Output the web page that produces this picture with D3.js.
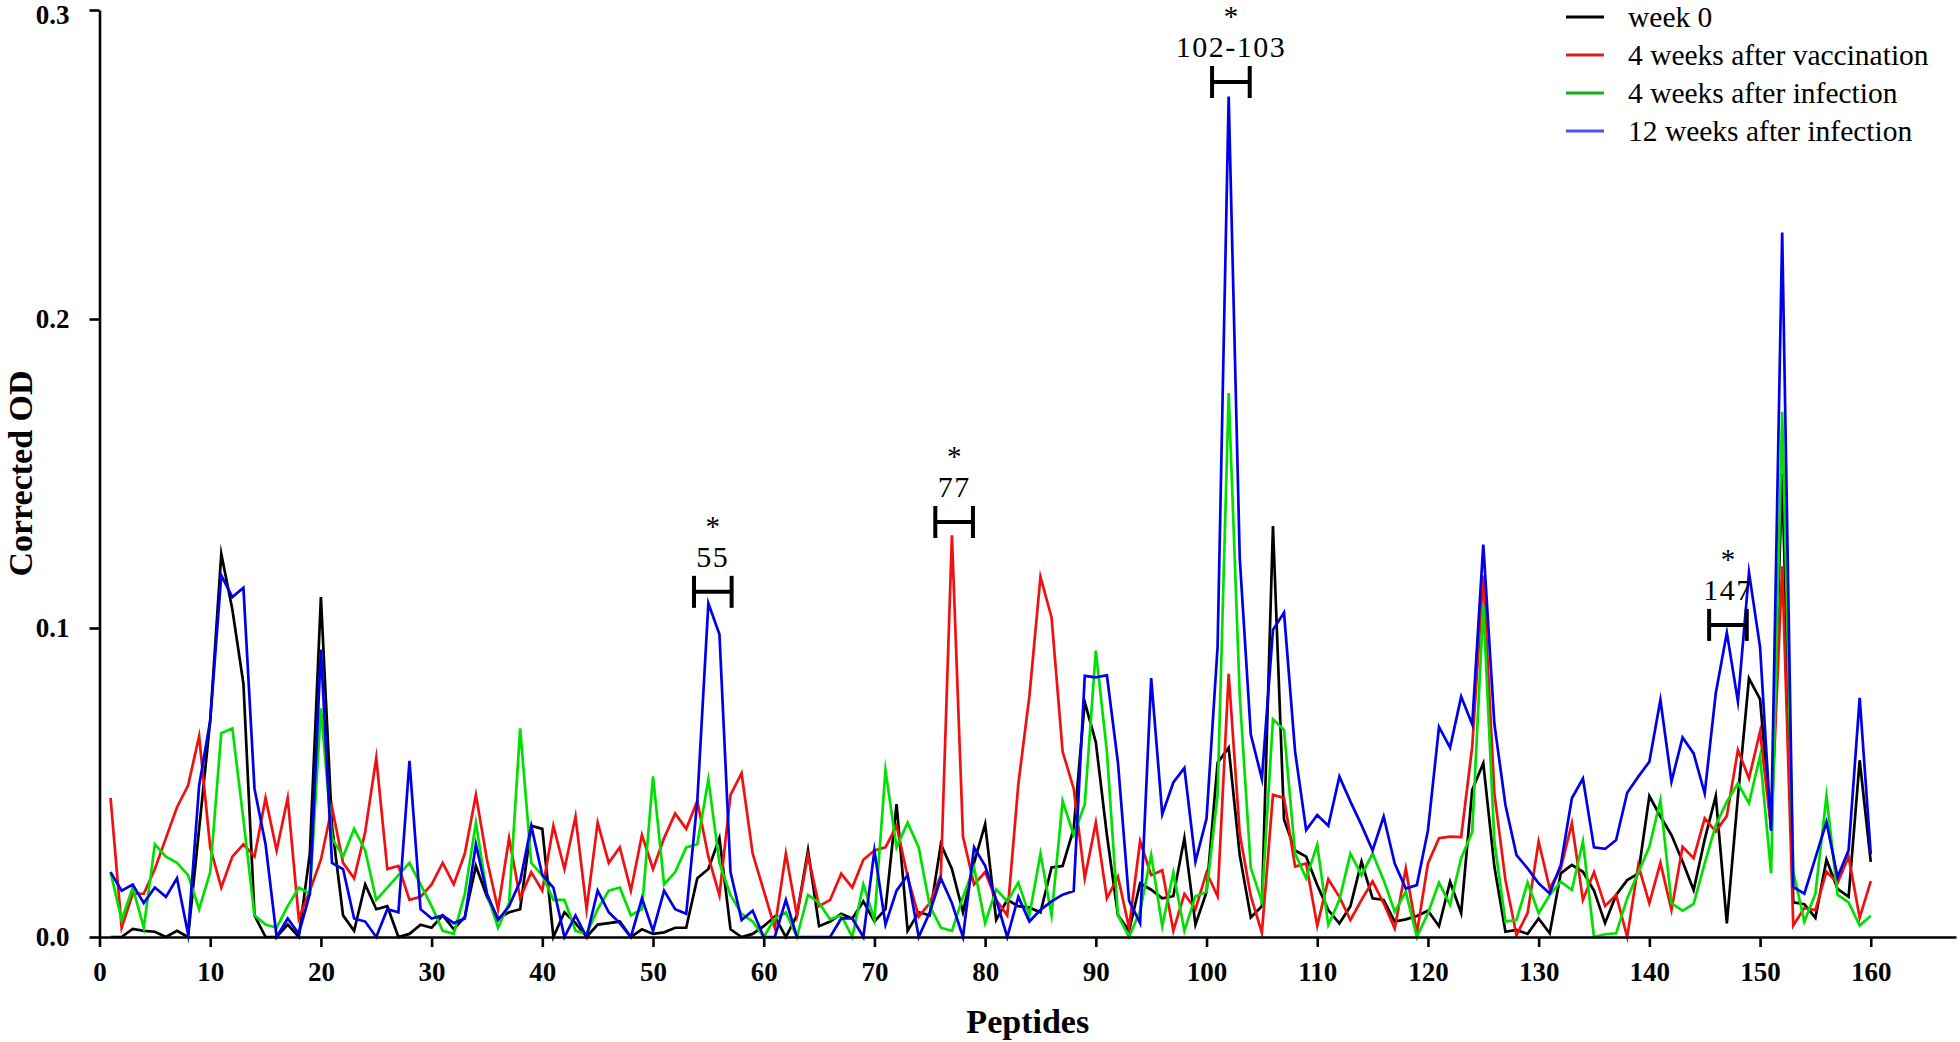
<!DOCTYPE html>
<html>
<head>
<meta charset="utf-8">
<script src="https://cdn.jsdelivr.net/npm/d3@7"></script>
<style>
  html, body { margin: 0; padding: 0; background: #fff; }
  svg { display: block; }
</style>
</head>
<body>
<svg id="chart" width="1960" height="1042"></svg>
<script>
// ---------------- DATA ----------------
const peptides = d3.range(1, 161);
const xTicks = [0,10,20,30,40,50,60,70,80,90,100,110,120,130,140,150,160];
const yTicks = [0, 0.1, 0.2, 0.3];
const seriesNames = ["week 0", "4 weeks after vaccination", "4 weeks after infection", "12 weeks after infection"];

const week0 = [
0,0,0.0026,0.002,0.0017,0,0.002,0,0.035,0.07,
0.124,0.106,0.082,0.007,0,0,0.004,0,0.027,0.110,
0.036,0.007,0.002,0.017,0.009,0.010,0,0.001,0.004,0.003,
0.007,0.0025,0.0065,0.023,0.013,0.006,0.008,0.009,0.036,0.035,
0,0.008,0.0045,0,0.004,0.0045,0.005,0,0.0025,0.001,
0.0015,0.003,0.003,0.019,0.022,0.032,0.0025,0,0.001,0.0035,
0.0066,0,0.007,0.028,0.0035,0.005,0.0075,0.006,0.0115,0.005,
0.009,0.043,0.002,0.008,0.007,0.030,0.022,0.008,0.024,0.0365,
0.0055,0.012,0.010,0.0095,0.008,0.0225,0.023,0.035,0.076,0.063,
0.033,0.007,0.002,0.0174,0.0153,0.0125,0.0132,0.032,0.004,0.0146,
0.0564,0.0613,0.0265,0.0063,0.010,0.133,0.038,0.028,0.026,0.0168,
0.0087,0.0044,0.010,0.0244,0.0125,0.012,0.005,0.0057,0.0068,0.0085,
0.0035,0.0179,0.0077,0.0476,0.0562,0.0228,0.0017,0.0023,0.001,0.006,
0.0012,0.0206,0.0233,0.0211,0.015,0.0045,0.0136,0.0184,0.0205,0.0456,
0.039,0.033,0.0244,0.0152,0.0316,0.0456,0.0044,0.0454,0.0837,0.077,
0.035,0.150,0.0112,0.0106,0.0062,0.025,0.0156,0.013,0.0572,0.0243
];
const vacc4 = [
0.045,0.003,0.014,0.014,0.022,0.032,0.042,0.049,0.065,0.029,
0.016,0.026,0.030,0.026,0.045,0.028,0.045,0.006,0.015,0.025,
0.042,0.024,0.019,0.034,0.058,0.022,0.023,0.012,0.013,0.017,
0.024,0.017,0.027,0.046,0.025,0.009,0.032,0.0125,0.021,0.015,
0.036,0.022,0.039,0.009,0.037,0.024,0.029,0.015,0.033,0.022,
0.032,0.040,0.035,0.044,0.026,0.0135,0.046,0.053,0.027,0.015,
0.003,0.027,0.007,0.0265,0.010,0.012,0.0205,0.016,0.025,0.028,
0.029,0.036,0.0195,0.0066,0.011,0.020,0.130,0.0325,0.017,0.021,
0.012,0.007,0.0495,0.078,0.1166,0.1034,0.060,0.048,0.019,0.037,
0.0125,0.0195,0.003,0.031,0.020,0.0216,0.002,0.0139,0.009,0.0209,
0.0132,0.0852,0.0334,0.0132,0.0014,0.046,0.045,0.0228,0.0238,0.0036,
0.0187,0.013,0.0055,0.012,0.018,0.0109,0.0028,0.0222,0.0012,0.0238,
0.032,0.0325,0.0323,0.0616,0.117,0.0465,0.0184,0.0006,0.0077,0.0309,
0.0157,0.0222,0.0368,0.012,0.021,0.010,0.0136,0,0.0233,0.0109,
0.024,0.0087,0.0292,0.0255,0.0384,0.0341,0.0392,0.0605,0.0513,0.0665,
0.035,0.120,0.0037,0.0094,0.0087,0.0212,0.0175,0.026,0.0062,0.0181
];
const inf4 = [
0.021,0.0055,0.016,0.003,0.030,0.026,0.024,0.020,0.009,0.021,
0.066,0.0675,0.038,0.007,0.004,0.003,0.010,0.016,0.014,0.074,
0.032,0.026,0.035,0.028,0.012,0.016,0.020,0.024,0.017,0.010,
0.002,0.001,0.014,0.037,0.014,0.003,0.011,0.0675,0.024,0.020,
0.012,0.012,0.002,0.001,0.009,0.015,0.016,0.007,0.009,0.052,
0.017,0.021,0.029,0.030,0.051,0.024,0.0135,0.0075,0.005,0,
0.006,0.008,0,0.0136,0.011,0.0057,0.007,0,0.017,0.0055,
0.054,0.029,0.037,0.029,0.010,0.003,0.002,0.013,0.0225,0.0045,
0.0154,0.0115,0.0176,0.007,0.027,0.007,0.044,0.033,0.043,0.0927,
0.060,0.007,0,0.0084,0.0265,0.0035,0.0209,0.002,0.0132,0.0146,
0.046,0.176,0.078,0.0223,0.0115,0.0705,0.067,0.027,0.019,0.0298,
0.0039,0.012,0.027,0.020,0.027,0.0184,0.0082,0.0147,0,0.0077,
0.0176,0.0104,0.0255,0.034,0.1074,0.0309,0.005,0.0055,0.0176,0.0077,
0.0136,0.0179,0.0152,0.0309,0,0.0009,0.0012,0.0125,0.0208,0.0292,
0.0443,0.0109,0.0085,0.0107,0.0238,0.0362,0.0438,0.0497,0.0433,0.0586,
0.0206,0.170,0.0212,0.005,0.014,0.0456,0.0137,0.0112,0.0037,0.0069
];
const inf12 = [
0.021,0.015,0.017,0.011,0.016,0.013,0.019,0.001,0.049,0.070,
0.117,0.110,0.113,0.048,0.030,0,0.006,0.001,0.014,0.093,
0.024,0.022,0.006,0.005,0,0.009,0.008,0.057,0.009,0.006,
0.007,0.0045,0.006,0.030,0.014,0.0055,0.010,0.018,0.036,0.020,
0.016,0,0.007,0,0.015,0.008,0.0045,0,0.0125,0.002,
0.015,0.009,0.0075,0.044,0.108,0.098,0.021,0.0055,0.0085,0,
0,0.012,0,0,0,0,0.006,0.006,0,0.028,
0.004,0.015,0.020,0,0.008,0.019,0.011,0,0.029,0.023,
0.012,0,0.013,0.005,0.0088,0.0115,0.0137,0.0149,0.0845,0.084,
0.0847,0.0564,0.0118,0.0045,0.0838,0.0397,0.050,0.0547,0.0244,0.0383,
0.094,0.272,0.1226,0.0655,0.0512,0.0994,0.105,0.060,0.0346,0.0395,
0.036,0.0519,0.0438,0.0362,0.028,0.039,0.0238,0.0157,0.0168,0.0345,
0.068,0.0613,0.0778,0.0688,0.127,0.069,0.0427,0.0265,0.0222,0.0174,
0.0141,0.0233,0.0449,0.0513,0.029,0.0285,0.0314,0.0467,0.0519,0.0567,
0.0767,0.0503,0.0646,0.0594,0.0465,0.0789,0.0985,0.0762,0.118,0.0938,
0.0343,0.228,0.0162,0.014,0.0256,0.0372,0.0194,0.0281,0.0774,0.0268
];

// significance annotations
const sigLabels = ["55", "77", "102-103", "147"];
const sigCenters = [55.4, 77.2, 102.2, 147.1];
const sigLevels = [0.1117, 0.1343, 0.2767, 0.101];
const sigHalfWidth = 1.7;

// ---------------- DRAW ----------------
const colors = ["#000000", "#f01010", "#00e000", "#0000e8"];
const legendColors = ["#000000", "#e31b23", "#10b010", "#5252ee"];
const serif = "'Liberation Serif', 'Times New Roman', serif";

const svg = d3.select("#chart");
const x = d3.scaleLinear().domain([0, 167.7]).range([99.5, 1956]);
const y = d3.scaleLinear().domain([0, 0.3]).range([937, 10]);

const allSeries = [week0, vacc4, inf4, inf12];
const line = d3.line().x((d, i) => x(peptides[i])).y(d => y(d));

const gLines = svg.append("g");
allSeries.forEach((s, k) => {
  gLines.append("path")
    .datum(s)
    .attr("d", line)
    .attr("fill", "none")
    .attr("stroke", colors[k])
    .attr("stroke-width", 2.7)
    .attr("stroke-linejoin", "miter")
    .attr("stroke-miterlimit", 10);
});

// axes
const xAxis = d3.axisBottom(x).tickValues(xTicks).tickSize(10).tickSizeOuter(0).tickPadding(15).tickFormat(d3.format("d"));
const yAxis = d3.axisLeft(y).tickValues(yTicks).tickSize(10).tickSizeOuter(0).tickPadding(20).tickFormat(d3.format(".1f"));

const gx = svg.append("g").attr("transform", `translate(0,${y(0)})`).call(xAxis);
const gy = svg.append("g").attr("transform", `translate(${x(0)},0)`).call(yAxis);
[gx, gy].forEach(g => {
  g.select(".domain").attr("stroke", "#000").attr("stroke-width", 2.6);
  g.selectAll(".tick line").attr("stroke", "#000").attr("stroke-width", 2.6);
  g.selectAll(".tick text")
    .attr("fill", "#000")
    .style("font-family", serif)
    .style("font-weight", "bold")
    .style("font-size", "27px");
});
// keep the top tick label inside the picture
gy.selectAll(".tick text").filter(d => d === 0.3).attr("dy", "0.5em");

// axis titles
svg.append("text")
  .attr("x", (x.range()[0] + x.range()[1]) / 2)
  .attr("y", 1033)
  .attr("text-anchor", "middle")
  .style("font-family", serif).style("font-weight", "bold").style("font-size", "34px")
  .text("Peptides");
svg.append("text")
  .attr("transform", `translate(32,${(y(0) + y(0.3)) / 2}) rotate(-90)`)
  .attr("text-anchor", "middle")
  .style("font-family", serif).style("font-weight", "bold").style("font-size", "34px")
  .text("Corrected OD");

// significance brackets
const gSig = svg.append("g");
sigLabels.forEach((lab, i) => {
  const x0 = x(sigCenters[i] - sigHalfWidth), x1 = x(sigCenters[i] + sigHalfWidth);
  const yy = y(sigLevels[i]);
  const g = gSig.append("g");
  g.append("line").attr("x1", x0).attr("x2", x1).attr("y1", yy).attr("y2", yy)
    .attr("stroke", "#000").attr("stroke-width", 4);
  [x0, x1].forEach(xx => g.append("line").attr("x1", xx).attr("x2", xx)
    .attr("y1", yy - 16).attr("y2", yy + 16).attr("stroke", "#000").attr("stroke-width", 4));
  g.append("text").attr("x", (x0 + x1) / 2).attr("y", yy - 25)
    .attr("text-anchor", "middle")
    .style("font-family", serif).style("font-size", "30px").style("letter-spacing", "1.5px")
    .text(lab);
  g.append("text").attr("x", (x0 + x1) / 2).attr("y", yy - 56)
    .attr("text-anchor", "middle")
    .style("font-family", serif).style("font-size", "29px").text("*");
});

// legend
const gLeg = svg.append("g");
seriesNames.forEach((name, i) => {
  const yy = 17 + i * 38;
  gLeg.append("line").attr("x1", 1566).attr("x2", 1604).attr("y1", yy).attr("y2", yy)
    .attr("stroke", legendColors[i]).attr("stroke-width", 3);
  gLeg.append("text").attr("x", 1628).attr("y", yy + 10)
    .style("font-family", serif).style("font-size", "29.5px").text(name);
});
</script>
